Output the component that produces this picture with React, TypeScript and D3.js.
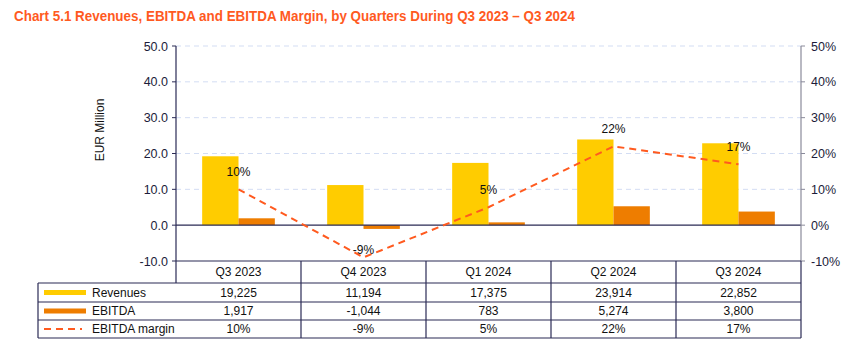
import * as d3 from 'd3';

// Chart data
const quarters = ['Q3 2023', 'Q4 2023', 'Q1 2024', 'Q2 2024', 'Q3 2024'];
const revenues = [19225, 11194, 17375, 23914, 22852]; // EUR thousand
const ebitda = [1917, -1044, 783, 5274, 3800]; // EUR thousand
const margin = [10, -9, 5, 22, 17]; // %
const leftTicks = [-10, 0, 10, 20, 30, 40, 50];
const rightTicks = [-10, 0, 10, 20, 30, 40, 50];

const REV = '#FFCC00';
const EBI = '#EE7D00';
const LINE = '#FF5A1F';
const INK = '#1c1c3a';
const BORDER = '#2a2a55';
const FONT = '"Liberation Sans", Arial, sans-serif';

export default function App() {
  const width = 859;
  const height = 353;
  const plot = { left: 176, right: 801, top: 46, bottom: 261 };

  const x = d3.scaleBand<string>().domain(quarters).range([plot.left, plot.right]);
  const inner = d3
    .scaleBand<string>()
    .domain(['rev', 'ebitda'])
    .range([0, x.bandwidth()])
    .paddingOuter(0.72)
    .paddingInner(0);
  const y = d3.scaleLinear().domain([-10, 50]).range([plot.bottom, plot.top]);
  const yr = d3.scaleLinear().domain([-10, 50]).range([plot.bottom, plot.top]);

  const cx = (q: string) => (x(q) ?? 0) + x.bandwidth() / 2;

  const line = d3
    .line<number>()
    .x((_, i) => cx(quarters[i]))
    .y((d) => yr(d));

  // table rows
  const rowY = [261, 283, 302, 320, 338];
  const tableLeft = 38;
  const rowsData = [
    { name: 'Revenues', values: revenues.map((v) => d3.format(',')(v)) },
    { name: 'EBITDA', values: ebitda.map((v) => d3.format(',')(v).replace('−', '-')) },
    { name: 'EBITDA margin', values: margin.map((v) => `${v}%`) },
  ];

  return (
    <svg
      width={width}
      height={height}
      style={{ position: 'absolute', left: 0, top: 0, background: '#fff' }}
      fontFamily={FONT}
    >
      <text
        x={14}
        y={21}
        fill={LINE}
        fontSize={14.5}
        fontWeight="bold"
        textLength={561}
        lengthAdjust="spacingAndGlyphs"
      >
        Chart 5.1 Revenues, EBITDA and EBITDA Margin, by Quarters During Q3 2023 – Q3 2024
      </text>

      {/* gridlines */}
      {leftTicks
        .filter((t) => t > 0)
        .map((t) => (
          <line
            key={t}
            x1={plot.left}
            x2={plot.right}
            y1={y(t)}
            y2={y(t)}
            stroke="#d3ddf3"
            strokeDasharray="5,4"
          />
        ))}

      {/* bars */}
      {quarters.map((q, i) => {
        const r = revenues[i] / 1000;
        const e = ebitda[i] / 1000;
        const x0 = x(q) ?? 0;
        return (
          <g key={q}>
            <rect
              x={x0 + (inner('rev') ?? 0)}
              width={inner.bandwidth()}
              y={Math.min(y(r), y(0))}
              height={Math.abs(y(r) - y(0))}
              fill={REV}
            />
            <rect
              x={x0 + (inner('ebitda') ?? 0)}
              width={inner.bandwidth()}
              y={Math.min(y(e), y(0))}
              height={Math.abs(y(e) - y(0))}
              fill={EBI}
            />
          </g>
        );
      })}

      {/* zero line */}
      <line x1={plot.left} x2={plot.right} y1={y(0)} y2={y(0)} stroke={BORDER} strokeWidth={1.2} />

      {/* margin line */}
      <path d={line(margin) ?? ''} fill="none" stroke={LINE} strokeWidth={2} strokeDasharray="7,5" />
      {margin.map((m, i) => (
        <text
          key={i}
          x={cx(quarters[i])}
          y={yr(m) - (m < 0 ? 3 : 13)}
          textAnchor="middle"
          fontSize={12}
          fill="#111"
        >
          {`${m}%`}
        </text>
      ))}

      {/* left axis */}
      <line x1={plot.left} x2={plot.left} y1={plot.top} y2={rowY[1]} stroke={BORDER} strokeWidth={1.2} />
      {leftTicks.map((t) => (
        <g key={t}>
          <line x1={plot.left - 4} x2={plot.left} y1={y(t)} y2={y(t)} stroke={BORDER} />
          <text x={plot.left - 8} y={y(t) + 4.5} textAnchor="end" fontSize={12.5} fill={INK}>
            {d3.format('.1f')(t).replace('−', '-')}
          </text>
        </g>
      ))}
      <text
        transform={`translate(104,130) rotate(-90)`}
        textAnchor="middle"
        fontSize={12}
        fill="#111"
      >
        EUR Million
      </text>

      {/* right axis */}
      <line x1={plot.right} x2={plot.right} y1={plot.top} y2={plot.bottom} stroke="#8a8a9a" strokeWidth={1.2} />
      {rightTicks.map((t) => (
        <g key={t}>
          <line x1={plot.right} x2={plot.right + 4} y1={yr(t)} y2={yr(t)} stroke="#8a8a9a" />
          <text x={plot.right + 10} y={yr(t) + 4.5} fontSize={12.5} fill={INK}>
            {`${t}%`.replace('−', '-')}
          </text>
        </g>
      ))}

      {/* data table */}
      <g fontSize={12} fill="#111">
        {/* header */}
        <line x1={plot.left} x2={plot.right} y1={rowY[0]} y2={rowY[0]} stroke={BORDER} strokeWidth={1.2} />
        {quarters.map((q) => (
          <text key={q} x={cx(q)} y={(rowY[0] + rowY[1]) / 2 + 4} textAnchor="middle">
            {q}
          </text>
        ))}
        {rowY.slice(1).map((ry, i) => (
          <line key={i} x1={tableLeft} x2={plot.right} y1={ry} y2={ry} stroke={BORDER} strokeWidth={1.2} />
        ))}
        <line x1={tableLeft} x2={tableLeft} y1={rowY[1]} y2={rowY[4]} stroke={BORDER} strokeWidth={1.2} />
        {quarters.map((q) => (
          <line
            key={q}
            x1={(x(q) ?? 0) + x.bandwidth()}
            x2={(x(q) ?? 0) + x.bandwidth()}
            y1={rowY[0]}
            y2={rowY[4]}
            stroke={BORDER}
            strokeWidth={1.2}
          />
        ))}
        {rowsData.map((row, r) => {
          const mid = (rowY[r + 1] + rowY[r + 2]) / 2;
          return (
            <g key={row.name}>
              {r === 0 && <line x1={44} x2={86} y1={mid} y2={mid} stroke={REV} strokeWidth={5} />}
              {r === 1 && <line x1={44} x2={86} y1={mid} y2={mid} stroke={EBI} strokeWidth={5} />}
              {r === 2 && (
                <line x1={44} x2={82} y1={mid} y2={mid} stroke={LINE} strokeWidth={2} strokeDasharray="7,5" />
              )}
              <text x={92} y={mid + 4}>
                {row.name}
              </text>
              {row.values.map((v, i) => (
                <text key={i} x={cx(quarters[i])} y={mid + 4} textAnchor="middle">
                  {v}
                </text>
              ))}
            </g>
          );
        })}
      </g>
    </svg>
  );
}
